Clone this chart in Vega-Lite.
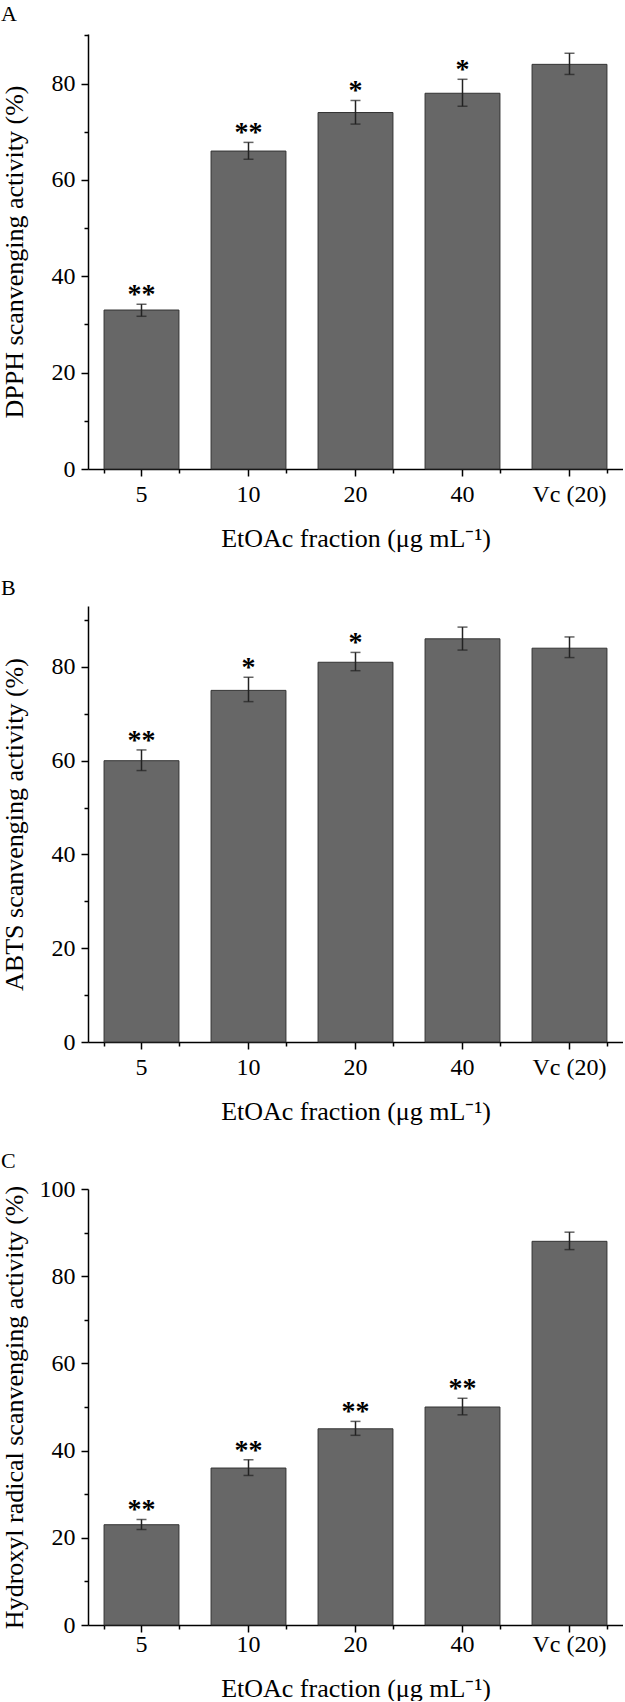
{
  "$schema": "https://vega.github.io/schema/vega-lite/v6.json",
  "padding": {"left": 0, "top": 3, "right": 0, "bottom": 0},
  "config": {
    "font": "Liberation Serif",
    "view": {"stroke": null},
    "axis": {"domainColor": "#000000", "domainWidth": 1.5, "tickColor": "#000000", "tickWidth": 1.5, "labelFont": "Liberation Serif", "labelFontSize": 24, "labelColor": "#000000", "titleFont": "Liberation Serif", "titleFontSize": 26, "titleFontWeight": "normal", "titleColor": "#000000", "grid": false},
    "title": {"font": "Liberation Serif", "fontSize": 22, "fontWeight": "normal", "anchor": "start", "frame": "bounds", "color": "#000000", "offset": 0},
    "concat": {"spacing": 26}
  },
  "vconcat": [
    {
      "title": {"text": "A"},
      "width": 535, "height": 435,
      "data": {"values": [
        {"conc": "5", "value": 33, "lo": 31.7, "hi": 34.2, "sig": "**"},
        {"conc": "10", "value": 66, "lo": 64.3, "hi": 67.8, "sig": "**"},
        {"conc": "20", "value": 74, "lo": 71.6, "hi": 76.5, "sig": "*"},
        {"conc": "40", "value": 78, "lo": 75.3, "hi": 80.9, "sig": "*"},
        {"conc": "Vc (20)", "value": 84, "lo": 81.9, "hi": 86.3, "sig": ""}
      ]},
      "layer": [
        {"mark": {"type": "bar", "fill": "#676767", "stroke": "#333333", "strokeWidth": 1},
         "encoding": {
           "x": {"field": "conc", "type": "nominal", "sort": ["5", "10", "20", "40", "Vc (20)"], "scale": {"paddingInner": 0.3, "paddingOuter": 0.15}, "axis": {"orient": "bottom", "title": "EtOAc fraction (μg mL⁻¹)", "labelAngle": 0, "tickSize": 7, "labelPadding": 6, "titlePadding": 19}},
           "y": {"field": "value", "type": "quantitative", "scale": {"domain": [0, 90.3], "nice": false}, "axis": {"orient": "left", "title": "DPPH scanvenging activity (%)", "values": [0, 20, 40, 60, 80], "tickSize": 7, "labelPadding": 6, "titleX": -61}}
         }},
        {"mark": {"type": "rule", "color": "#222222", "strokeWidth": 1.5},
         "encoding": {
           "x": {"field": "conc", "type": "nominal", "sort": ["5", "10", "20", "40", "Vc (20)"], "axis": {"orient": "bottom", "tickBand": "extent", "labels": false, "title": null, "domain": false, "tickSize": 4}},
           "y": {"field": "lo", "type": "quantitative", "axis": {"orient": "left", "values": [10, 30, 50, 70, 90], "labels": false, "title": null, "domain": false, "tickSize": 4}},
           "y2": {"field": "hi"}
         }},
        {"mark": {"type": "tick", "color": "#222222", "thickness": 1.5, "size": 10},
         "encoding": {"x": {"field": "conc", "type": "nominal", "sort": ["5", "10", "20", "40", "Vc (20)"], "axis": null}, "y": {"field": "lo", "type": "quantitative", "axis": null}}},
        {"mark": {"type": "tick", "color": "#222222", "thickness": 1.5, "size": 10},
         "encoding": {"x": {"field": "conc", "type": "nominal", "sort": ["5", "10", "20", "40", "Vc (20)"], "axis": null}, "y": {"field": "hi", "type": "quantitative", "axis": null}}},
        {"mark": {"type": "text", "font": "Liberation Serif", "fontSize": 28, "fontWeight": "bold", "baseline": "alphabetic", "dy": -1, "color": "#000000"},
         "encoding": {"x": {"field": "conc", "type": "nominal", "sort": ["5", "10", "20", "40", "Vc (20)"], "axis": null}, "y": {"field": "hi", "type": "quantitative", "axis": null}, "text": {"field": "sig"}}}
      ],
      "resolve": {"axis": {"x": "independent", "y": "independent"}}
    },
    {
      "title": {"text": "B"},
      "width": 535, "height": 436,
      "data": {"values": [
        {"conc": "5", "value": 60, "lo": 57.9, "hi": 62.3, "sig": "**"},
        {"conc": "10", "value": 75, "lo": 72.6, "hi": 77.8, "sig": "*"},
        {"conc": "20", "value": 81, "lo": 79.2, "hi": 83.1, "sig": "*"},
        {"conc": "40", "value": 86, "lo": 83.6, "hi": 88.5, "sig": ""},
        {"conc": "Vc (20)", "value": 84, "lo": 82.0, "hi": 86.4, "sig": ""}
      ]},
      "layer": [
        {"mark": {"type": "bar", "fill": "#676767", "stroke": "#333333", "strokeWidth": 1},
         "encoding": {
           "x": {"field": "conc", "type": "nominal", "sort": ["5", "10", "20", "40", "Vc (20)"], "scale": {"paddingInner": 0.3, "paddingOuter": 0.15}, "axis": {"orient": "bottom", "title": "EtOAc fraction (μg mL⁻¹)", "labelAngle": 0, "tickSize": 7, "labelPadding": 6, "titlePadding": 19}},
           "y": {"field": "value", "type": "quantitative", "scale": {"domain": [0, 93], "nice": false}, "axis": {"orient": "left", "title": "ABTS scanvenging activity (%)", "values": [0, 20, 40, 60, 80], "tickSize": 7, "labelPadding": 6, "titleX": -61}}
         }},
        {"mark": {"type": "rule", "color": "#222222", "strokeWidth": 1.5},
         "encoding": {
           "x": {"field": "conc", "type": "nominal", "sort": ["5", "10", "20", "40", "Vc (20)"], "axis": {"orient": "bottom", "tickBand": "extent", "labels": false, "title": null, "domain": false, "tickSize": 4}},
           "y": {"field": "lo", "type": "quantitative", "axis": {"orient": "left", "values": [10, 30, 50, 70, 90], "labels": false, "title": null, "domain": false, "tickSize": 4}},
           "y2": {"field": "hi"}
         }},
        {"mark": {"type": "tick", "color": "#222222", "thickness": 1.5, "size": 10},
         "encoding": {"x": {"field": "conc", "type": "nominal", "sort": ["5", "10", "20", "40", "Vc (20)"], "axis": null}, "y": {"field": "lo", "type": "quantitative", "axis": null}}},
        {"mark": {"type": "tick", "color": "#222222", "thickness": 1.5, "size": 10},
         "encoding": {"x": {"field": "conc", "type": "nominal", "sort": ["5", "10", "20", "40", "Vc (20)"], "axis": null}, "y": {"field": "hi", "type": "quantitative", "axis": null}}},
        {"mark": {"type": "text", "font": "Liberation Serif", "fontSize": 28, "fontWeight": "bold", "baseline": "alphabetic", "dy": -1, "color": "#000000"},
         "encoding": {"x": {"field": "conc", "type": "nominal", "sort": ["5", "10", "20", "40", "Vc (20)"], "axis": null}, "y": {"field": "hi", "type": "quantitative", "axis": null}, "text": {"field": "sig"}}}
      ],
      "resolve": {"axis": {"x": "independent", "y": "independent"}}
    },
    {
      "title": {"text": "C"},
      "width": 535, "height": 436,
      "data": {"values": [
        {"conc": "5", "value": 23, "lo": 21.9, "hi": 24.2, "sig": "**"},
        {"conc": "10", "value": 36, "lo": 34.3, "hi": 37.9, "sig": "**"},
        {"conc": "20", "value": 45, "lo": 43.5, "hi": 46.7, "sig": "**"},
        {"conc": "40", "value": 50, "lo": 48.2, "hi": 52.0, "sig": "**"},
        {"conc": "Vc (20)", "value": 88, "lo": 86.1, "hi": 90.1, "sig": ""}
      ]},
      "layer": [
        {"mark": {"type": "bar", "fill": "#676767", "stroke": "#333333", "strokeWidth": 1},
         "encoding": {
           "x": {"field": "conc", "type": "nominal", "sort": ["5", "10", "20", "40", "Vc (20)"], "scale": {"paddingInner": 0.3, "paddingOuter": 0.15}, "axis": {"orient": "bottom", "title": "EtOAc fraction (μg mL⁻¹)", "labelAngle": 0, "tickSize": 7, "labelPadding": 0, "titlePadding": 19}},
           "y": {"field": "value", "type": "quantitative", "scale": {"domain": [0, 100], "nice": false}, "axis": {"orient": "left", "title": "Hydroxyl radical scanvenging activity (%)", "values": [0, 20, 40, 60, 80, 100], "tickSize": 7, "labelPadding": 6, "titleX": -61}}
         }},
        {"mark": {"type": "rule", "color": "#222222", "strokeWidth": 1.5},
         "encoding": {
           "x": {"field": "conc", "type": "nominal", "sort": ["5", "10", "20", "40", "Vc (20)"], "axis": {"orient": "bottom", "tickBand": "extent", "labels": false, "title": null, "domain": false, "tickSize": 4}},
           "y": {"field": "lo", "type": "quantitative", "axis": {"orient": "left", "values": [10, 30, 50, 70, 90], "labels": false, "title": null, "domain": false, "tickSize": 4}},
           "y2": {"field": "hi"}
         }},
        {"mark": {"type": "tick", "color": "#222222", "thickness": 1.5, "size": 10},
         "encoding": {"x": {"field": "conc", "type": "nominal", "sort": ["5", "10", "20", "40", "Vc (20)"], "axis": null}, "y": {"field": "lo", "type": "quantitative", "axis": null}}},
        {"mark": {"type": "tick", "color": "#222222", "thickness": 1.5, "size": 10},
         "encoding": {"x": {"field": "conc", "type": "nominal", "sort": ["5", "10", "20", "40", "Vc (20)"], "axis": null}, "y": {"field": "hi", "type": "quantitative", "axis": null}}},
        {"mark": {"type": "text", "font": "Liberation Serif", "fontSize": 28, "fontWeight": "bold", "baseline": "alphabetic", "dy": -1, "color": "#000000"},
         "encoding": {"x": {"field": "conc", "type": "nominal", "sort": ["5", "10", "20", "40", "Vc (20)"], "axis": null}, "y": {"field": "hi", "type": "quantitative", "axis": null}, "text": {"field": "sig"}}}
      ],
      "resolve": {"axis": {"x": "independent", "y": "independent"}}
    }
  ]
}
